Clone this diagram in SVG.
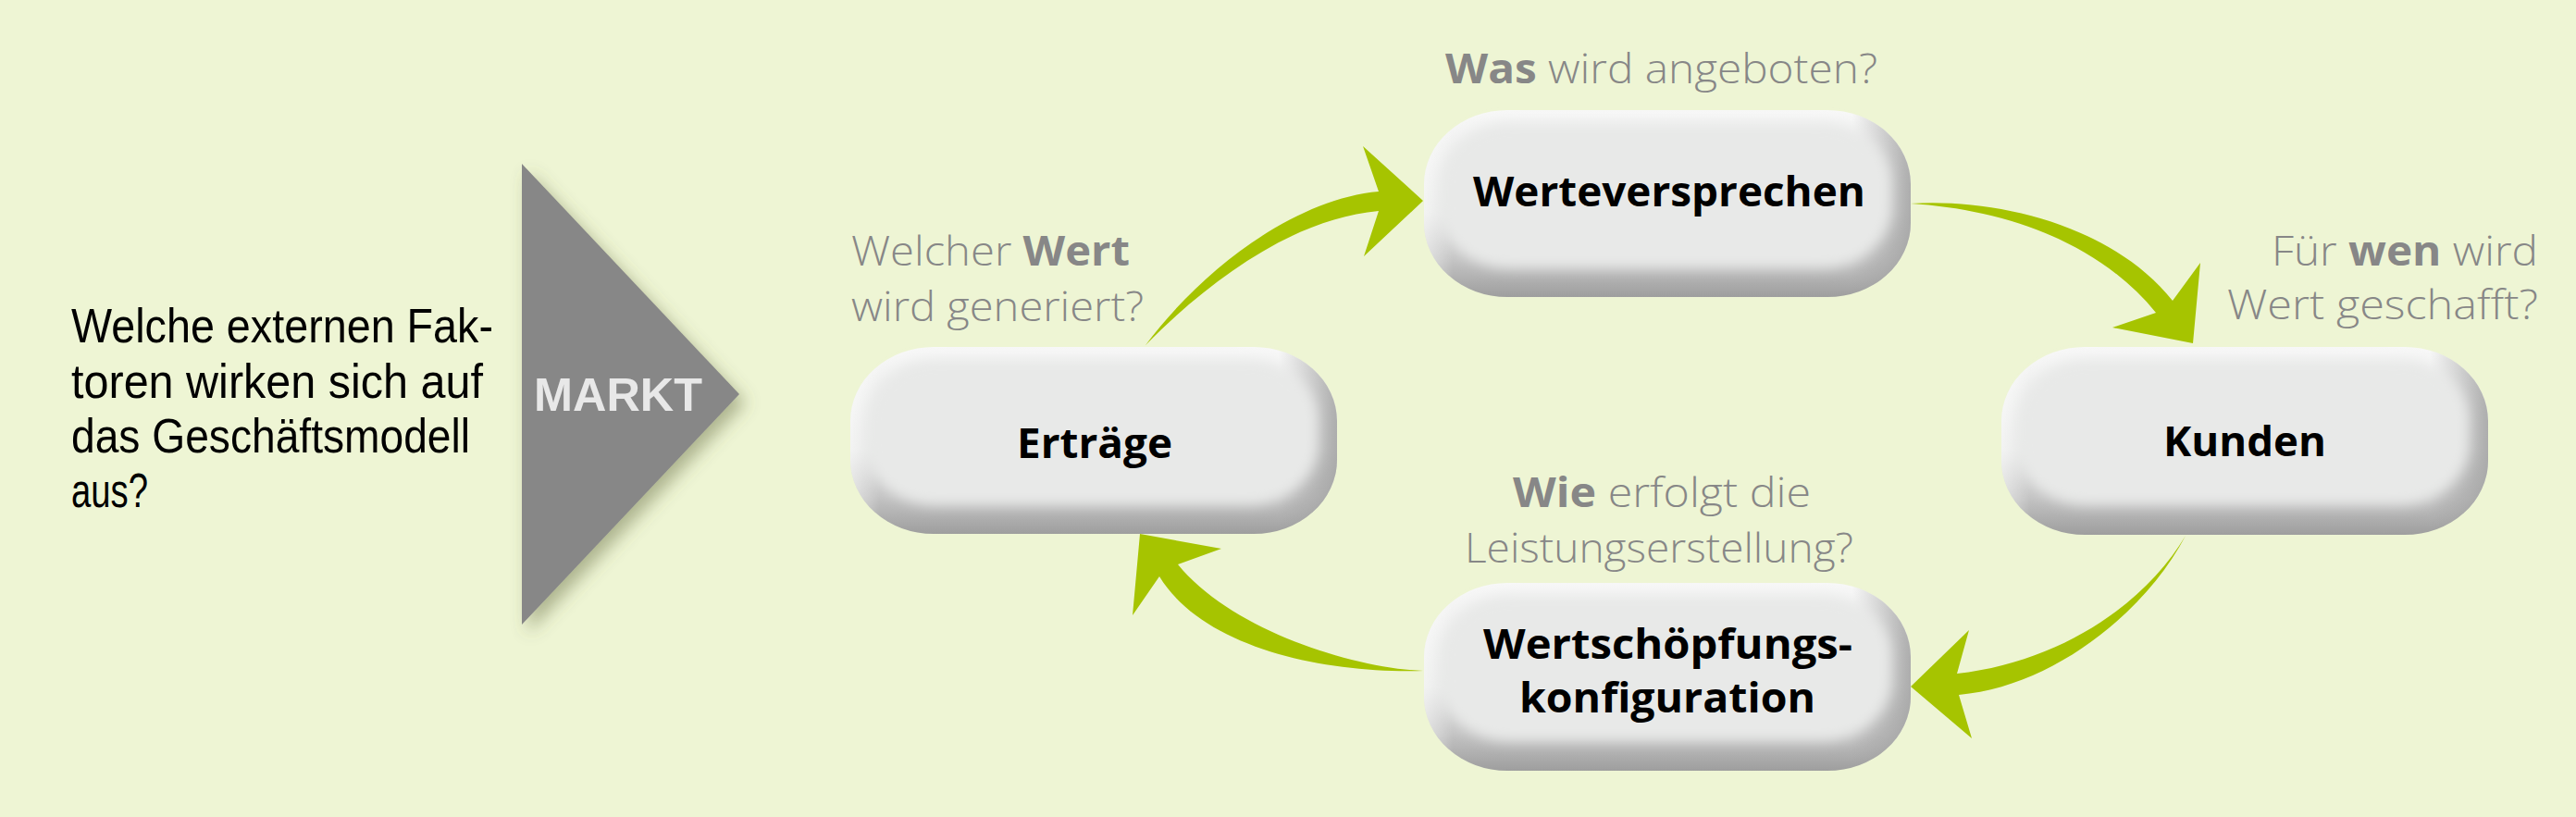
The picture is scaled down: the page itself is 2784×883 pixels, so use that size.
<svg xmlns="http://www.w3.org/2000/svg" width="2784" height="883" viewBox="0 0 2784 883">
<style>
.q{font-family:"Open Sans","Liberation Sans",sans-serif;font-size:44px;font-weight:300;fill:#878787}
.q .b{font-weight:700}
.lbl{font-family:"Open Sans","Liberation Sans",sans-serif;font-size:45px;font-weight:700;fill:#000}
.ext{font-family:"Liberation Sans",Arial,sans-serif;font-size:52px;font-weight:400;fill:#000}
.arrow{fill:#a6c400}
</style>
<defs>
<linearGradient id="rimV" x1="0" y1="0" x2="0" y2="1">
<stop offset="0" stop-color="#f8f8f8"/>
<stop offset="0.55" stop-color="#e6e7e6"/>
<stop offset="0.8" stop-color="#c4c4c4"/>
<stop offset="1" stop-color="#9e9e9e"/>
</linearGradient>
<linearGradient id="rimH" x1="0" y1="0" x2="1" y2="0">
<stop offset="0" stop-color="#ffffff" stop-opacity="0.5"/>
<stop offset="0.06" stop-color="#ffffff" stop-opacity="0"/>
<stop offset="0.88" stop-color="#9e9e9e" stop-opacity="0"/>
<stop offset="1" stop-color="#9e9e9e" stop-opacity="0.8"/>
</linearGradient>
<filter id="soft" x="-10%" y="-20%" width="120%" height="140%">
<feGaussianBlur stdDeviation="7"/>
</filter>
<filter id="tshadow" x="-20%" y="-10%" width="150%" height="130%">
<feDropShadow dx="7" dy="9" stdDeviation="9" flood-color="#5f6638" flood-opacity="0.45"/>
</filter>
</defs>
<rect width="2784" height="883" fill="#eef5d4"/>

<g id="external-question">
<text class="ext" x="77" y="370" textLength="456" lengthAdjust="spacingAndGlyphs">Welche externen Fak-</text>
<text class="ext" x="77" y="430" textLength="445" lengthAdjust="spacingAndGlyphs">toren wirken sich auf</text>
<text class="ext" x="77" y="489" textLength="431" lengthAdjust="spacingAndGlyphs">das Geschäftsmodell</text>
<text class="ext" x="77" y="548" textLength="83" lengthAdjust="spacingAndGlyphs">aus?</text>
</g>

<g id="markt">
<polygon points="564,177 799,426 564,675" fill="#878787" filter="url(#tshadow)"/>
<text x="577" y="444" font-family="Liberation Sans, Arial, sans-serif" font-size="50" font-weight="700" fill="#e8e8e8" textLength="182" lengthAdjust="spacingAndGlyphs">MARKT</text>
</g>

<g id="node-werteversprechen">
<rect x="1539" y="119" width="526" height="202" rx="90" ry="80" fill="url(#rimV)"/>
<rect x="1539" y="119" width="526" height="202" rx="90" ry="80" fill="url(#rimH)"/>
<rect x="1556" y="132" width="488" height="158" rx="75" ry="66" fill="#e8e9e8" filter="url(#soft)"/>
<text class="lbl" x="1592" y="223" textLength="424" lengthAdjust="spacingAndGlyphs">Werteversprechen</text>
</g>

<g id="node-ertraege">
<rect x="919" y="375" width="526" height="202" rx="90" ry="80" fill="url(#rimV)"/>
<rect x="919" y="375" width="526" height="202" rx="90" ry="80" fill="url(#rimH)"/>
<rect x="936" y="388" width="488" height="158" rx="75" ry="66" fill="#e8e9e8" filter="url(#soft)"/>
<text class="lbl" x="1099" y="495" textLength="168" lengthAdjust="spacingAndGlyphs">Erträge</text>
</g>

<g id="node-kunden">
<rect x="2163" y="375" width="526" height="203" rx="90" ry="80" fill="url(#rimV)"/>
<rect x="2163" y="375" width="526" height="203" rx="90" ry="80" fill="url(#rimH)"/>
<rect x="2180" y="388" width="488" height="158" rx="75" ry="66" fill="#e8e9e8" filter="url(#soft)"/>
<text class="lbl" x="2338" y="493" textLength="176" lengthAdjust="spacingAndGlyphs">Kunden</text>
</g>

<g id="node-wertschoepfung">
<rect x="1539" y="630" width="526" height="203" rx="90" ry="80" fill="url(#rimV)"/>
<rect x="1539" y="630" width="526" height="203" rx="90" ry="80" fill="url(#rimH)"/>
<rect x="1556" y="643" width="488" height="158" rx="75" ry="66" fill="#e8e9e8" filter="url(#soft)"/>
<text class="lbl" x="1603" y="712" textLength="399" lengthAdjust="spacingAndGlyphs">Wertschöpfungs-</text>
<text class="lbl" x="1642" y="770" textLength="320" lengthAdjust="spacingAndGlyphs">konfiguration</text>
</g>

<g id="questions">
<text class="q" x="1562" y="90" textLength="467" lengthAdjust="spacingAndGlyphs"><tspan class="b">Was</tspan> wird angeboten?</text>
<text class="q" x="920" y="287" textLength="301" lengthAdjust="spacingAndGlyphs">Welcher <tspan class="b">Wert</tspan></text>
<text class="q" x="920" y="347" textLength="316" lengthAdjust="spacingAndGlyphs">wird generiert?</text>
<text class="q" x="2455" y="287" textLength="288" lengthAdjust="spacingAndGlyphs">Für <tspan class="b">wen</tspan> wird</text>
<text class="q" x="2407" y="345" textLength="336" lengthAdjust="spacingAndGlyphs">Wert geschafft?</text>
<text class="q" x="1635" y="548" textLength="322" lengthAdjust="spacingAndGlyphs"><tspan class="b">Wie</tspan> erfolgt die</text>
<text class="q" x="1583" y="608" textLength="420" lengthAdjust="spacingAndGlyphs">Leistungserstellung?</text>
</g>

<g id="connectors">
<path class="arrow" d="M1238,373 C1300,290 1400,215 1490,207 L1473,158 L1538,217 L1474,277 L1490,228 C1400,236 1310,300 1238,373 Z"/>
<path class="arrow" d="M2065,220 C2160,214 2285,245 2348,325 L2378,284 L2370,371 L2283,354 L2330,338 C2265,258 2160,226 2065,220 Z"/>
<path class="arrow" d="M2362,579 C2320,650 2230,715 2115,728 L2128,681 L2065,742 L2131,798 L2117,751 C2220,742 2320,660 2362,579 Z"/>
<path class="arrow" d="M1538,725 C1460,722 1330,680 1273,610 L1320,593 L1232,577 L1224,665 L1253,623 C1300,700 1430,728 1538,725 Z"/>
</g>
</svg>
